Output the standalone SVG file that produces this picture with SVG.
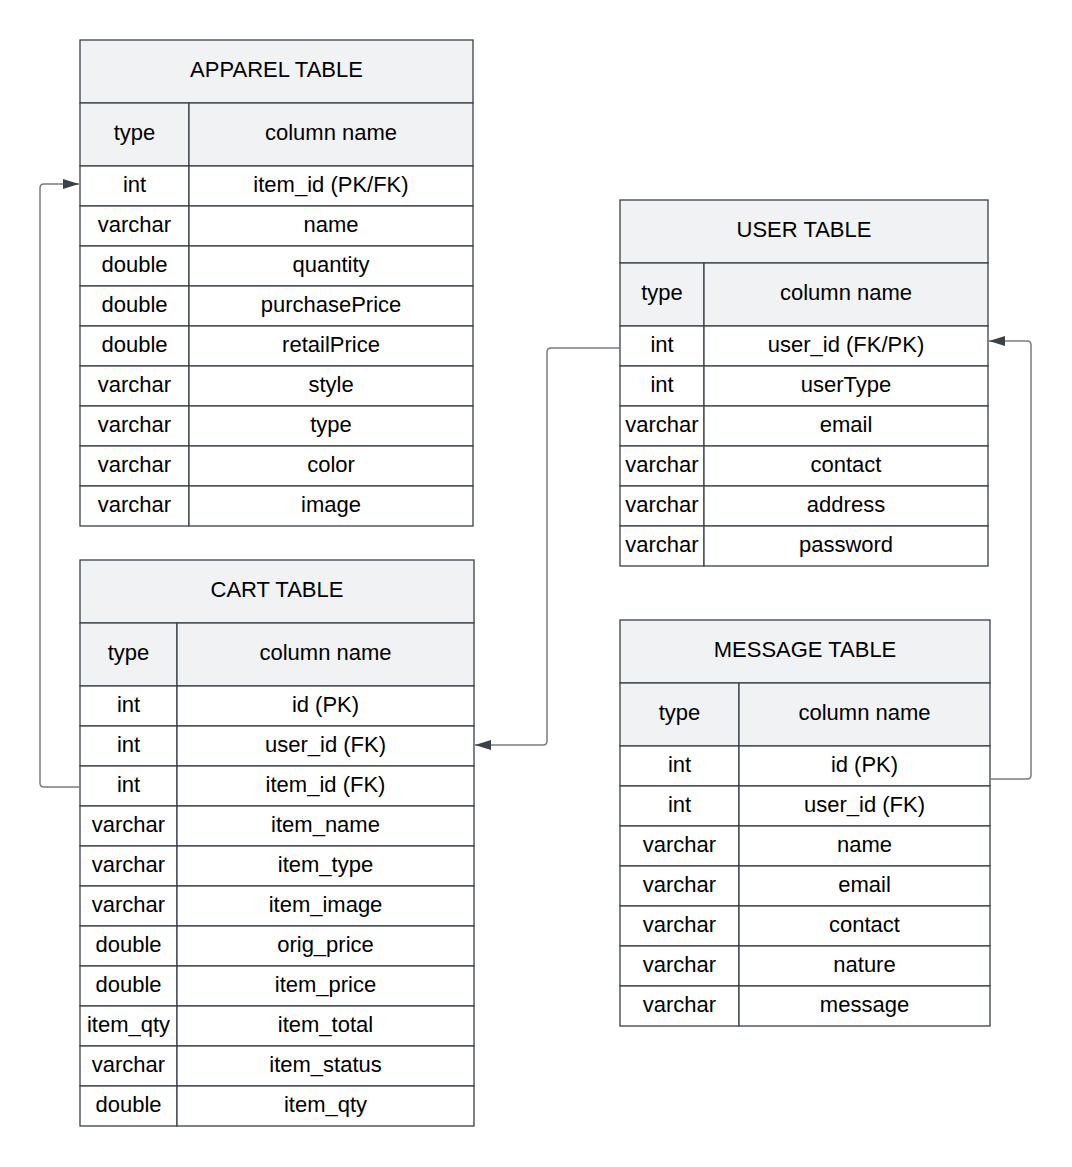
<svg xmlns="http://www.w3.org/2000/svg" width="1072" height="1167" viewBox="0 0 1072 1167">
<defs>
<style>
.hd{fill:#f1f2f4;stroke:#3a414a;stroke-width:1.3}
.cell{fill:#ffffff;stroke:#3a414a;stroke-width:1.3}
text{font-family:"Liberation Sans",Arial,sans-serif;font-size:22px;fill:#000;text-anchor:middle}
.conn{fill:none;stroke:#777b81;stroke-width:1.5}
</style>
<marker id="arr" viewBox="0 0 16 10" refX="16" refY="5" markerWidth="16" markerHeight="10" markerUnits="userSpaceOnUse" orient="auto">
<path d="M0,0 L16,5 L0,10 Z" fill="#3a414a"/>
</marker>
</defs>
<rect width="1072" height="1167" fill="#ffffff"/>

<g id="apparel">
<rect class="hd" x="80" y="40" width="393" height="63"/>
<text x="276.5" y="77">APPAREL TABLE</text>
<rect class="hd" x="80" y="103" width="109" height="63"/>
<rect class="hd" x="189" y="103" width="284" height="63"/>
<text x="134.5" y="140">type</text>
<text x="331" y="140">column name</text>
<g>
<rect class="cell" x="80" y="166" width="109" height="40"/><rect class="cell" x="189" y="166" width="284" height="40"/>
<rect class="cell" x="80" y="206" width="109" height="40"/><rect class="cell" x="189" y="206" width="284" height="40"/>
<rect class="cell" x="80" y="246" width="109" height="40"/><rect class="cell" x="189" y="246" width="284" height="40"/>
<rect class="cell" x="80" y="286" width="109" height="40"/><rect class="cell" x="189" y="286" width="284" height="40"/>
<rect class="cell" x="80" y="326" width="109" height="40"/><rect class="cell" x="189" y="326" width="284" height="40"/>
<rect class="cell" x="80" y="366" width="109" height="40"/><rect class="cell" x="189" y="366" width="284" height="40"/>
<rect class="cell" x="80" y="406" width="109" height="40"/><rect class="cell" x="189" y="406" width="284" height="40"/>
<rect class="cell" x="80" y="446" width="109" height="40"/><rect class="cell" x="189" y="446" width="284" height="40"/>
<rect class="cell" x="80" y="486" width="109" height="40"/><rect class="cell" x="189" y="486" width="284" height="40"/>
</g>
<text x="134.5" y="191.5">int</text><text x="331" y="191.5">item_id (PK/FK)</text>
<text x="134.5" y="231.5">varchar</text><text x="331" y="231.5">name</text>
<text x="134.5" y="271.5">double</text><text x="331" y="271.5">quantity</text>
<text x="134.5" y="311.5">double</text><text x="331" y="311.5">purchasePrice</text>
<text x="134.5" y="351.5">double</text><text x="331" y="351.5">retailPrice</text>
<text x="134.5" y="391.5">varchar</text><text x="331" y="391.5">style</text>
<text x="134.5" y="431.5">varchar</text><text x="331" y="431.5">type</text>
<text x="134.5" y="471.5">varchar</text><text x="331" y="471.5">color</text>
<text x="134.5" y="511.5">varchar</text><text x="331" y="511.5">image</text>
</g>

<g id="cart">
<rect class="hd" x="80" y="560" width="394" height="63"/>
<text x="277" y="597">CART TABLE</text>
<rect class="hd" x="80" y="623" width="97" height="63"/>
<rect class="hd" x="177" y="623" width="297" height="63"/>
<text x="128.5" y="660">type</text>
<text x="325.5" y="660">column name</text>
<g>
<rect class="cell" x="80" y="686" width="97" height="40"/><rect class="cell" x="177" y="686" width="297" height="40"/>
<rect class="cell" x="80" y="726" width="97" height="40"/><rect class="cell" x="177" y="726" width="297" height="40"/>
<rect class="cell" x="80" y="766" width="97" height="40"/><rect class="cell" x="177" y="766" width="297" height="40"/>
<rect class="cell" x="80" y="806" width="97" height="40"/><rect class="cell" x="177" y="806" width="297" height="40"/>
<rect class="cell" x="80" y="846" width="97" height="40"/><rect class="cell" x="177" y="846" width="297" height="40"/>
<rect class="cell" x="80" y="886" width="97" height="40"/><rect class="cell" x="177" y="886" width="297" height="40"/>
<rect class="cell" x="80" y="926" width="97" height="40"/><rect class="cell" x="177" y="926" width="297" height="40"/>
<rect class="cell" x="80" y="966" width="97" height="40"/><rect class="cell" x="177" y="966" width="297" height="40"/>
<rect class="cell" x="80" y="1006" width="97" height="40"/><rect class="cell" x="177" y="1006" width="297" height="40"/>
<rect class="cell" x="80" y="1046" width="97" height="40"/><rect class="cell" x="177" y="1046" width="297" height="40"/>
<rect class="cell" x="80" y="1086" width="97" height="40"/><rect class="cell" x="177" y="1086" width="297" height="40"/>
</g>
<text x="128.5" y="711.5">int</text><text x="325.5" y="711.5">id (PK)</text>
<text x="128.5" y="751.5">int</text><text x="325.5" y="751.5">user_id (FK)</text>
<text x="128.5" y="791.5">int</text><text x="325.5" y="791.5">item_id (FK)</text>
<text x="128.5" y="831.5">varchar</text><text x="325.5" y="831.5">item_name</text>
<text x="128.5" y="871.5">varchar</text><text x="325.5" y="871.5">item_type</text>
<text x="128.5" y="911.5">varchar</text><text x="325.5" y="911.5">item_image</text>
<text x="128.5" y="951.5">double</text><text x="325.5" y="951.5">orig_price</text>
<text x="128.5" y="991.5">double</text><text x="325.5" y="991.5">item_price</text>
<text x="128.5" y="1031.5">item_qty</text><text x="325.5" y="1031.5">item_total</text>
<text x="128.5" y="1071.5">varchar</text><text x="325.5" y="1071.5">item_status</text>
<text x="128.5" y="1111.5">double</text><text x="325.5" y="1111.5">item_qty</text>
</g>

<g id="user">
<rect class="hd" x="620" y="200" width="368" height="63"/>
<text x="804" y="237">USER TABLE</text>
<rect class="hd" x="620" y="263" width="84" height="63"/>
<rect class="hd" x="704" y="263" width="284" height="63"/>
<text x="662" y="300">type</text>
<text x="846" y="300">column name</text>
<g>
<rect class="cell" x="620" y="326" width="84" height="40"/><rect class="cell" x="704" y="326" width="284" height="40"/>
<rect class="cell" x="620" y="366" width="84" height="40"/><rect class="cell" x="704" y="366" width="284" height="40"/>
<rect class="cell" x="620" y="406" width="84" height="40"/><rect class="cell" x="704" y="406" width="284" height="40"/>
<rect class="cell" x="620" y="446" width="84" height="40"/><rect class="cell" x="704" y="446" width="284" height="40"/>
<rect class="cell" x="620" y="486" width="84" height="40"/><rect class="cell" x="704" y="486" width="284" height="40"/>
<rect class="cell" x="620" y="526" width="84" height="40"/><rect class="cell" x="704" y="526" width="284" height="40"/>
</g>
<text x="662" y="351.5">int</text><text x="846" y="351.5">user_id (FK/PK)</text>
<text x="662" y="391.5">int</text><text x="846" y="391.5">userType</text>
<text x="662" y="431.5">varchar</text><text x="846" y="431.5">email</text>
<text x="662" y="471.5">varchar</text><text x="846" y="471.5">contact</text>
<text x="662" y="511.5">varchar</text><text x="846" y="511.5">address</text>
<text x="662" y="551.5">varchar</text><text x="846" y="551.5">password</text>
</g>

<g id="message">
<rect class="hd" x="620" y="620" width="370" height="63"/>
<text x="805" y="657">MESSAGE TABLE</text>
<rect class="hd" x="620" y="683" width="119" height="63"/>
<rect class="hd" x="739" y="683" width="251" height="63"/>
<text x="679.5" y="720">type</text>
<text x="864.5" y="720">column name</text>
<g>
<rect class="cell" x="620" y="746" width="119" height="40"/><rect class="cell" x="739" y="746" width="251" height="40"/>
<rect class="cell" x="620" y="786" width="119" height="40"/><rect class="cell" x="739" y="786" width="251" height="40"/>
<rect class="cell" x="620" y="826" width="119" height="40"/><rect class="cell" x="739" y="826" width="251" height="40"/>
<rect class="cell" x="620" y="866" width="119" height="40"/><rect class="cell" x="739" y="866" width="251" height="40"/>
<rect class="cell" x="620" y="906" width="119" height="40"/><rect class="cell" x="739" y="906" width="251" height="40"/>
<rect class="cell" x="620" y="946" width="119" height="40"/><rect class="cell" x="739" y="946" width="251" height="40"/>
<rect class="cell" x="620" y="986" width="119" height="40"/><rect class="cell" x="739" y="986" width="251" height="40"/>
</g>
<text x="679.5" y="771.5">int</text><text x="864.5" y="771.5">id (PK)</text>
<text x="679.5" y="811.5">int</text><text x="864.5" y="811.5">user_id (FK)</text>
<text x="679.5" y="851.5">varchar</text><text x="864.5" y="851.5">name</text>
<text x="679.5" y="891.5">varchar</text><text x="864.5" y="891.5">email</text>
<text x="679.5" y="931.5">varchar</text><text x="864.5" y="931.5">contact</text>
<text x="679.5" y="971.5">varchar</text><text x="864.5" y="971.5">nature</text>
<text x="679.5" y="1011.5">varchar</text><text x="864.5" y="1011.5">message</text>
</g>

<g id="connectors">
<path class="conn" marker-end="url(#arr)" d="M80,787 L44,787 Q40,787 40,783 L40,188 Q40,184 44,184 L79,184"/>
<path class="conn" marker-end="url(#arr)" d="M620,348 L551,348 Q547,348 547,352 L547,741 Q547,745 543,745 L475,745"/>
<path class="conn" marker-end="url(#arr)" d="M990,779 L1027,779 Q1031,779 1031,775 L1031,345 Q1031,341 1027,341 L989,341"/>
</g>
</svg>
